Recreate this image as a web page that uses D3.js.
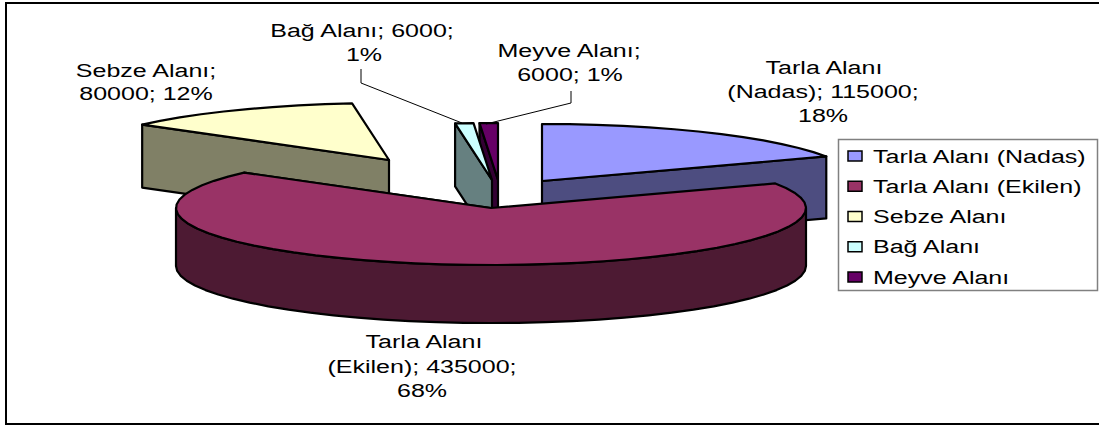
<!DOCTYPE html>
<html><head><meta charset="utf-8">
<style>html,body{margin:0;padding:0;background:#fff;overflow:hidden}svg{display:block}text{font-family:"Liberation Sans",Arial,sans-serif;fill:#000}</style>
<script src="https://cdn.jsdelivr.net/npm/d3@7"></script></head><body>
<svg id="c" width="1099" height="425"></svg>
<script>
const categories=["Tarla Alanı (Nadas)","Tarla Alanı (Ekilen)","Sebze Alanı","Bağ Alanı","Meyve Alanı"];
const values=[115000,435000,80000,6000,6000];
const topColors=["#9999ff","#993366","#ffffcc","#ccffff","#660066"];
const wallColors=["#4d4d80","#4d1a33","#808066","#668080","#330033"];
const percents=["18%","68%","12%","1%","1%"];

// layout (not data)
const RX=315,RY=57,STEP=5*Math.PI/180;
const depth=[62,58,63,63,63];
const apex=[[542,181],[491,208],[389,160],[492,180],[498,180]];
const drawOrder=[2,4,3,0,1];
const labelLines=[
 [["Tarla Alanı",824,74],["(Nadas); "+values[0]+";",823,98],[percents[0],823,122]],
 [["Tarla Alanı",424,348],["(Ekilen); "+values[1]+";",422,373],[percents[1],422,397]],
 [["Sebze Alanı;",146,77],[values[2]+"; "+percents[2],146,100]],
 [["Bağ Alanı; "+values[3]+";",362,37],[percents[3],364,61]],
 [["Meyve Alanı;",569,57],[values[4]+"; "+percents[4],570,81]]
];
const FS=18, STRETCH=1.39;

const svg=d3.select("#c");
const sx=d3.scaleLinear().domain([-1,1]).range([-RX,RX]);
const sy=d3.scaleLinear().domain([-1,1]).range([RY,-RY]);
const slices=d3.pie().sort(null).startAngle(0).endAngle(2*Math.PI)(values);
const rim=(c,a)=>[c[0]+sx(Math.sin(a)),c[1]+sy(Math.cos(a))];
const arcPts=(c,a0,a1)=>{const n=Math.max(1,Math.ceil((a1-a0)/STEP)),o=[];
  for(let i=0;i<=n;i++)o.push(rim(c,a0+(a1-a0)*i/n));return o;};
const line=d3.line().curve(d3.curveLinearClosed);

svg.append("rect").attr("x",6).attr("y",3).attr("width",1110).attr("height",421)
   .attr("fill","#fff").attr("stroke","#000").attr("stroke-width",2);

const g=svg.append("g").attr("stroke","#000").attr("stroke-width",2.2).attr("stroke-linejoin","round");
drawOrder.forEach(i=>{
  const s=slices[i],c=apex[i],down=p=>[p[0],p[1]+depth[i]];
  const walls=[];
  // radial walls that face the viewer
  const radial=a=>{const e=rim(c,a);walls.push([c,e,down(e),down(c)]);};
  if(s.endAngle<Math.PI) radial(s.endAngle);
  if(s.endAngle>Math.PI&&s.endAngle<2*Math.PI&&s.startAngle<Math.PI) radial(s.endAngle);
  if(s.startAngle>=Math.PI) radial(s.startAngle);
  // outer wall on the near half
  const a0=Math.max(s.startAngle,Math.PI/2),a1=Math.min(s.endAngle,3*Math.PI/2);
  if(a1>a0){const t=arcPts(c,a0,a1);walls.push(t.concat(t.map(down).reverse()));}
  walls.forEach(w=>g.append("path").attr("d",line(w)).attr("fill",wallColors[i]));
  g.append("path").attr("d",line([c].concat(arcPts(c,s.startAngle,s.endAngle)))).attr("fill",topColors[i]);
});

// leader lines
const leaders=[[[361,69],[361,83],[462,123]],[[571,91],[571,103],[486,124]]];
svg.selectAll("path.l").data(leaders).join("path").attr("class","l")
  .attr("d",d3.line()).attr("fill","none").attr("stroke","#000").attr("stroke-width",1);

// data labels
labelLines.flat().forEach(([t,x,y])=>svg.append("text").text(t)
  .attr("transform",`translate(${x},${y}) scale(${STRETCH},1)`)
  .attr("text-anchor","middle").attr("font-size",FS));

// legend
svg.append("rect").attr("x",838.5).attr("y",139.5).attr("width",259).attr("height",151)
  .attr("fill","#fff").attr("stroke","#808080").attr("stroke-width",1.5);
const ly=d3.scalePoint().domain(categories).range([156,277]);
categories.forEach((n,i)=>{
  svg.append("rect").attr("x",848).attr("y",ly(n)-5).attr("width",14).attr("height",10)
    .attr("fill",topColors[i]).attr("stroke","#000").attr("stroke-width",1.5);
  svg.append("text").text(n)
    .attr("transform",`translate(873,${ly(n)+6.5}) scale(${STRETCH},1)`)
    .attr("font-size",FS);
});
</script></body></html>
